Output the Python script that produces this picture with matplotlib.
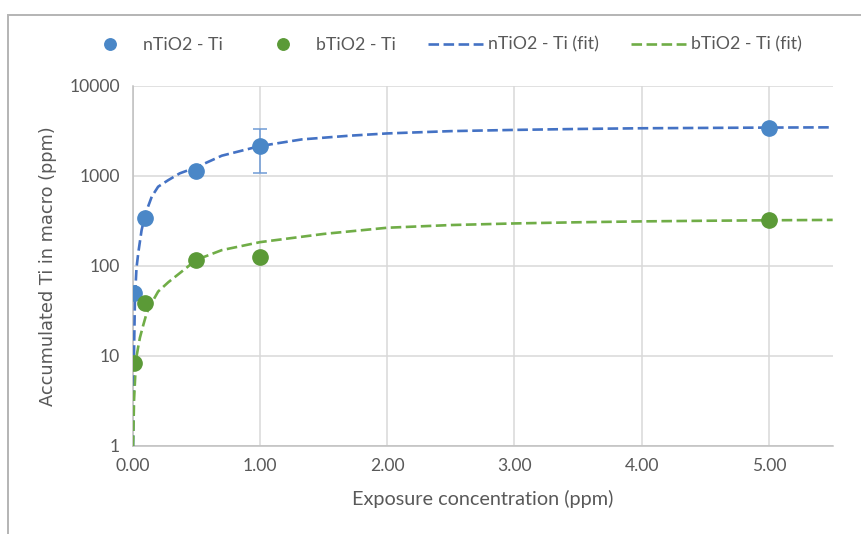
import matplotlib.pyplot as plt
from matplotlib.patches import Rectangle

# measured points
conc = [0.01, 0.1, 0.5, 1.0, 5.0]
n_ti = [50, 340, 1150, 2150, 3450]
b_ti = [8.4, 39, 117, 125, 322]
n_err_low = [0, 0, 0, 1060, 0]
n_err_high = [0, 0, 0, 1150, 0]

# fitted curves
n_fit_x = [0.003, 0.006, 0.01, 0.018, 0.03, 0.044, 0.07, 0.1, 0.15, 0.2, 0.28, 0.37,
           0.5, 0.7, 1.0, 1.33, 1.7, 2.0, 2.5, 3.0, 3.5, 4.0, 4.5, 5.0, 5.5]
n_fit_y = [1, 2, 10, 45, 95, 140, 250, 380, 590, 760, 900, 1070,
           1250, 1680, 2150, 2550, 2800, 2970, 3150, 3250, 3330, 3390, 3420, 3450, 3470]
b_fit_x = [0.003, 0.011, 0.02, 0.031, 0.045, 0.057, 0.083, 0.11, 0.15, 0.2, 0.28, 0.4,
           0.5, 0.7, 1.0, 1.5, 2.0, 2.5, 3.0, 3.5, 4.0, 4.5, 5.0, 5.5]
b_fit_y = [1, 3.3, 6, 10, 13, 16, 22, 30, 39, 52, 66, 90,
           117, 150, 184, 227, 266, 285, 297, 306, 313, 318, 322, 325]

xticks = [0, 1, 2, 3, 4, 5]
yticks = [1, 10, 100, 1000, 10000]

blue_pt = '#4a87c7'
green_pt = '#5b9a37'
blue_ln = '#4472c4'
green_ln = '#70ad47'
txt = '#595959'

fig = plt.figure(figsize=(8.61, 5.34), dpi=100)
ax = fig.add_axes([0.1541, 0.1648, 0.8130, 0.6742])

# chart border (cut by the screenshot on the right and bottom)
fig.add_artist(Rectangle((8 / 861, -0.1), 1.2, 1.1 - 14.7 / 534, transform=fig.transFigure,
                         fill=False, edgecolor='#b4b4b4', lw=1.4))

ln_n, = ax.plot(n_fit_x, n_fit_y, color=blue_ln, lw=1.9, dashes=(4, 1.7), zorder=3,
                label='nTiO2 - Ti (fit)')
ln_b, = ax.plot(b_fit_x, b_fit_y, color=green_ln, lw=1.9, dashes=(4, 1.7), zorder=3,
                label='bTiO2 - Ti (fit)')
ax.errorbar(conc, n_ti, yerr=[n_err_low, n_err_high], fmt='none', ecolor='#6f9bd6',
            elinewidth=1.1, capsize=5, capthick=1.1, zorder=4)
pt_n, = ax.plot(conc, n_ti, 'o', color=blue_pt, ms=11, zorder=5, label='nTiO2 - Ti')
pt_b, = ax.plot(conc, b_ti, 'o', color=green_pt, ms=11, zorder=5, label='bTiO2 - Ti')

ax.set_yscale('log')
ax.set_xlim(0, 5.5)
ax.set_ylim(1, 10000)
ax.set_xticks(xticks)
ax.set_xticklabels(['%.2f' % v for v in xticks])
ax.set_yticks(yticks)
ax.set_yticklabels([str(v) for v in yticks])
ax.minorticks_off()
ax.tick_params(length=0, labelsize=12.6, labelcolor=txt, pad=9)
for lab in ax.get_xticklabels() + ax.get_yticklabels():
    lab.set_family('Lato')

ax.grid(True, color='#d9d9d9', lw=1.1)
ax.set_axisbelow(True)
for s in ['top', 'right']:
    ax.spines[s].set_visible(False)
for s in ['left', 'bottom']:
    ax.spines[s].set_color('#bfbfbf')
    ax.spines[s].set_linewidth(1.1)

ax.set_xlabel('Exposure concentration (ppm)', fontsize=14.3, color=txt, family='Lato', labelpad=11)
ax.set_ylabel('Accumulated Ti in macro (ppm)', fontsize=12.8, color=txt, family='DejaVu Sans', labelpad=9)

fig.legend(handles=[pt_n, pt_b, ln_n, ln_b], loc='center', bbox_to_anchor=(0.514, 0.916),
           ncol=4, frameon=False, prop={'family': 'Lato', 'size': 12.8}, labelcolor=txt,
           markerscale=0.75, handlelength=3.1, handletextpad=0.3, columnspacing=1.8)

fig.savefig('out.png', dpi=100)
